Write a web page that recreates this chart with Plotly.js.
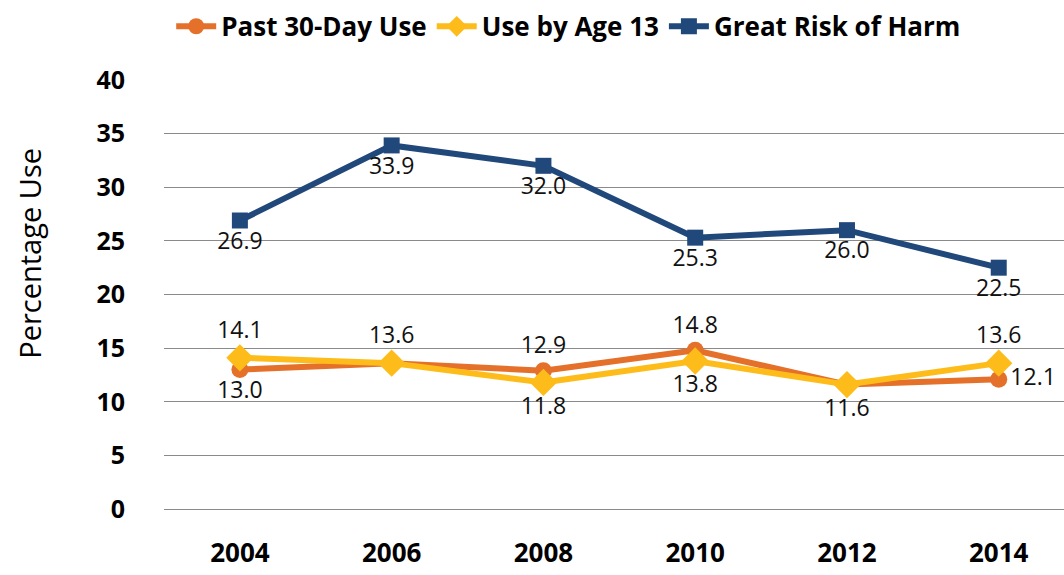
<!DOCTYPE html>
<html><head><meta charset="utf-8">
<script src="https://cdn.plot.ly/plotly-3.0.1.min.js"></script>
<style>html,body{margin:0;padding:0;background:#fff}#c{width:1064px;height:575px}</style>
</head><body><div id="c"></div>
<script>
const years = ['2004','2006','2008','2010','2012','2014'];
const past30 = [13.0, 13.6, 12.9, 14.8, 11.6, 12.1];
const byAge13 = [14.1, 13.6, 11.8, 13.8, 11.6, 13.6];
const greatRisk = [26.9, 33.9, 32.0, 25.3, 26.0, 22.5];
const past30Pos = ['bottom center','', 'top center','top center','', 'middle right'];
const age13Pos = ['top center','top center','bottom center','bottom center','bottom center','top center'];
const riskPos = ['bottom center','bottom center','bottom center','bottom center','bottom center','bottom center'];
const yTicks = [0,5,10,15,20,25,30,35,40];
const yTitle = 'Percentage Use';

function mk(name, y, pos, color, symbol, size){
  return {
    type:'scatter', mode:'lines+markers+text', name:name, x:years, y:y,
    text:y.map((v,i)=>pos[i]?v.toFixed(1):''),
    textposition:pos.map(p=>p||'top center'),
    textfont:{family:'Open Sans, Noto Sans, sans-serif', size:23, color:'#111'},
    line:{color:color, width:6},
    marker:{color:color, symbol:symbol, size:size},
    cliponaxis:false
  };
}
const data = [
  mk('Past 30-Day Use', past30, past30Pos, '#E4702A', 'circle', 17),
  mk('Use by Age 13', byAge13, age13Pos, '#FDBC19', 'diamond', 21),
  mk('Great Risk of Harm', greatRisk, riskPos, '#21487A', 'square', 16)
];
const layout = {
  width:1064, height:575,
  margin:{l:164, r:0, t:80, b:66},
  paper_bgcolor:'#fff', plot_bgcolor:'#fff',
  showlegend:true,
  legend:{orientation:'h', x:0.008, xanchor:'left', y:0.995, yanchor:'top', yref:'container',
    font:{family:'Liberation Sans Narrow, Open Sans, sans-serif', size:26, color:'#000', weight:'bold'},
    itemwidth:40, traceorder:'normal', tracegroupgap:0},
  xaxis:{type:'category', range:[-0.5,5.43], showgrid:false, zeroline:false, showline:false,
    tickfont:{family:'Open Sans, sans-serif', size:26, color:'#000', weight:'bold'},
    ticks:'', ticklabelstandoff:26},
  yaxis:{range:[0,40], tickvals:yTicks, ticktext:yTicks.map(String),
    showgrid:true, gridcolor:'#8a8a8a', gridwidth:1, zeroline:true, zerolinecolor:'#8a8a8a', zerolinewidth:1,
    tickfont:{family:'Open Sans, sans-serif', size:25, color:'#000', weight:'bold'},
    ticks:'', ticklabelstandoff:38},
  annotations:[{text:yTitle, textangle:-90, xref:'paper', yref:'paper', x:-0.149, y:0.597,
    xanchor:'center', yanchor:'middle', showarrow:false,
    font:{family:'Open Sans, sans-serif', size:29, color:'#000'}}]
};
Plotly.newPlot('c', data, layout, {displayModeBar:false, staticPlot:true});
</script></body></html>
